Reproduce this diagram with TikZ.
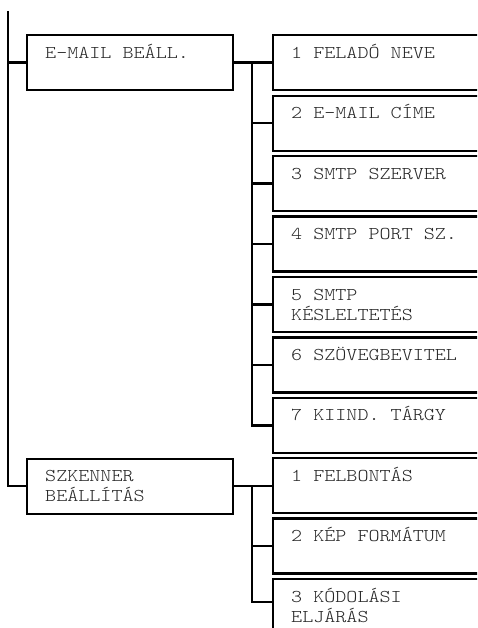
\documentclass[tikz,border=0pt]{standalone}
\usepackage{fontspec}
\newfontfamily\courfont{lmmonolt10-regular}[Extension=.otf, FakeStretch=1.17]
\begin{document}
\begin{tikzpicture}[x=1pt,y=-1pt,
  line width=2.4pt,
  box/.style={draw, rectangle, anchor=north west, minimum width=#1, minimum height=55pt, inner sep=0pt, line width=2.4pt},
  box/.default=206pt,
  rbox/.style={box=240pt},
  lbl/.style={anchor=north west, inner sep=0pt, align=left, font=\courfont\fontsize{18}{20}\selectfont, text=black!85}
]
\useasboundingbox (0,0) rectangle (477,628);
\clip (0,0) rectangle (477,628);

\newcommand{\firstline}{\rule{0pt}{18pt}}

% left column
\node[box] (e) at (26,34) {};
\node[box] (s) at (26,457.5) {};
\node[lbl] (te) at ([shift={(18,5)}]e.north west) {\firstline E-MAIL BEÁLL.};
\node[lbl] (ts) at ([shift={(18,5)}]s.north west) {\firstline SZKENNER\\BEÁLLÍTÁS};

% right column
\node[rbox] (b1) at (272,34) {};
\node[rbox] (b2) at (272,94.6) {};
\node[rbox] (b3) at (272,155) {};
\node[rbox] (b4) at (272,215.4) {};
\node[rbox] (b5) at (272,275.8) {};
\node[rbox] (b6) at (272,336.2) {};
\node[rbox] (b7) at (272,396.6) {};
\node[rbox] (b8) at (272,457) {};
\node[rbox] (b9) at (272,517.4) {};
\node[rbox] (b10) at (272,577.8) {};

\node[lbl] (t1) at ([shift={(18,5)}]b1.north west) {\firstline 1 FELADÓ NEVE};
\node[lbl] (t2) at ([shift={(18,5)}]b2.north west) {\firstline 2 E-MAIL CÍME};
\node[lbl] (t3) at ([shift={(18,5)}]b3.north west) {\firstline 3 SMTP SZERVER};
\node[lbl] (t4) at ([shift={(18,5)}]b4.north west) {\firstline 4 SMTP PORT SZ.};
\node[lbl] (t5) at ([shift={(18,5)}]b5.north west) {\firstline 5 SMTP\\KÉSLELTETÉS};
\node[lbl] (t6) at ([shift={(18,5)}]b6.north west) {\firstline 6 SZÖVEGBEVITEL};
\node[lbl] (t7) at ([shift={(18,5)}]b7.north west) {\firstline 7 KIIND. TÁRGY};
\node[lbl] (t8) at ([shift={(18,5)}]b8.north west) {\firstline 1 FELBONTÁS};
\node[lbl] (t9) at ([shift={(18,5)}]b9.north west) {\firstline 2 KÉP FORMÁTUM};
\node[lbl] (t10) at ([shift={(18,5)}]b10.north west) {\firstline 3 KÓDOLÁSI\\ELJÁRÁS};

% main trunk
\coordinate (top) at (8,11);
\draw (top) |- (s.west);
\draw (e.west) -- (e.west -| top);

% e-mail subtree
\coordinate (j1) at (252,0);
\draw (e.east) -- (b1.west);
\draw (e.east -| j1) |- (b7.west);
\foreach \n in {2,...,6} \draw (b\n.west -| j1) -- (b\n.west);

% scanner subtree
\coordinate (c10) at ([shift={(0,24)}]b10.north west);
\draw (s.east) -- (s.east -| b8.west);
\draw (s.east -| j1) |- (c10);
\draw (b9.west -| j1) -- (b9.west);
\end{tikzpicture}
\end{document}
